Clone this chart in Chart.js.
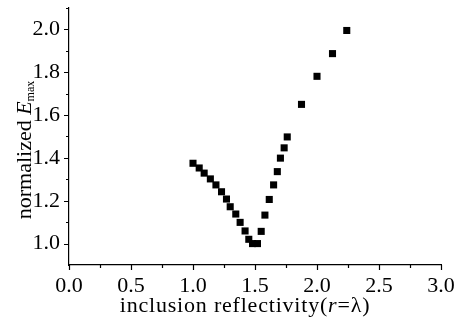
<!DOCTYPE html>
<html>
<head>
<meta charset="utf-8">
<script src="https://cdn.jsdelivr.net/npm/chart.js@4"></script>
<style>
  html, body { margin: 0; padding: 0; background: #fff; }
  #wrap { width: 458px; height: 320px; }
</style>
</head>
<body>
<div id="wrap"><canvas id="emaxChart"></canvas></div>
<script>
// inclusion reflectivity (r = lambda) and normalized E_max
const reflectivity = [1.00, 1.05, 1.09, 1.14, 1.185, 1.23, 1.27, 1.30, 1.345, 1.38, 1.42, 1.45, 1.48, 1.52,
                      1.55, 1.58, 1.615, 1.65, 1.68, 1.705, 1.735, 1.76, 1.875, 2.00, 2.125, 2.24];
const emaxNorm = [1.375, 1.353, 1.329, 1.302, 1.274, 1.242, 1.208, 1.172, 1.138, 1.099, 1.059, 1.020, 1.000, 1.000,
                  1.057, 1.133, 1.206, 1.274, 1.336, 1.399, 1.447, 1.498, 1.650, 1.781, 1.887, 1.995];

const xTicks = [0.0, 0.5, 1.0, 1.5, 2.0, 2.5, 3.0];
const yTicks = [1.0, 1.2, 1.4, 1.6, 1.8, 2.0];
const xMinorStep = 0.25;
const yMinorStep = 0.1;

const FONT = "'Liberation Serif', 'Times New Roman', serif";

// ticks (major + minor) drawn outward, plus the mixed-style axis titles
const axisDecor = {
  id: 'axisDecor',
  afterDraw(chart) {
    const ctx = chart.ctx;
    const xs = chart.scales.x, ys = chart.scales.y;
    const area = chart.chartArea;
    ctx.save();
    ctx.strokeStyle = '#000';
    ctx.lineWidth = 1.2;
    ctx.beginPath();
    for (let v = xs.min; v <= xs.max + 1e-9; v += xMinorStep) {
      const px = Math.round(xs.getPixelForValue(v)) + 0.5;
      const major = xTicks.some(t => Math.abs(t - v) < 1e-6);
      ctx.moveTo(px, area.bottom);
      ctx.lineTo(px, area.bottom + (major ? 5 : 3));
    }
    for (let v = 1.0; v <= ys.max + 1e-9; v += yMinorStep) {
      const py = Math.round(ys.getPixelForValue(v)) + 0.5;
      const major = yTicks.some(t => Math.abs(t - v) < 1e-6);
      ctx.moveTo(area.left, py);
      ctx.lineTo(area.left - (major ? 5 : 3), py);
    }
    ctx.stroke();

    ctx.fillStyle = '#000';
    ctx.textBaseline = 'alphabetic';

    // x title: inclusion reflectivity(r=λ)
    ctx.letterSpacing = '0.8px';
    const xParts = [
      { t: 'inclusion reflectivity(', f: '22px ' + FONT },
      { t: 'r', f: 'italic 22px ' + FONT },
      { t: '=λ)', f: '22px ' + FONT }
    ];
    let w = 0;
    xParts.forEach(p => { ctx.font = p.f; p.w = ctx.measureText(p.t).width; w += p.w; });
    let x = 245 - w / 2;
    xParts.forEach(p => { ctx.font = p.f; ctx.fillText(p.t, x, 312); x += p.w; });
    ctx.letterSpacing = '0px';

    // y title: normalized E_max, rotated
    ctx.translate(31, 150);
    ctx.rotate(-Math.PI / 2);
    const yParts = [
      { t: 'normalized ', f: '22px ' + FONT, dy: 0 },
      { t: 'E', f: 'italic 22px ' + FONT, dy: 0 },
      { t: 'max', f: '12px ' + FONT, dy: 3 }
    ];
    w = 0;
    yParts.forEach(p => { ctx.font = p.f; p.w = ctx.measureText(p.t).width; w += p.w; });
    x = -w / 2;
    yParts.forEach(p => { ctx.font = p.f; ctx.fillText(p.t, x, p.dy); x += p.w; });
    ctx.restore();
  }
};

new Chart(document.getElementById('emaxChart'), {
  type: 'scatter',
  data: {
    datasets: [{
      data: reflectivity.map((r, i) => ({ x: r, y: emaxNorm[i] })),
      pointStyle: 'rect',
      pointRadius: 5,
      pointHoverRadius: 5,
      backgroundColor: '#000',
      borderWidth: 0
    }]
  },
  options: {
    responsive: true,
    maintainAspectRatio: false,
    animation: false,
    layout: { padding: { top: 8, right: 17, left: 0, bottom: 0 } },
    plugins: { legend: { display: false }, tooltip: { enabled: false } },
    scales: {
      x: {
        type: 'linear',
        min: 0, max: 3,
        afterBuildTicks: s => { s.ticks = xTicks.map(v => ({ value: v })); },
        afterFit: s => { s.height = 55; s.paddingLeft = 0; s.paddingRight = 0; },
        grid: { display: false, drawTicks: false },
        border: { display: true, color: '#000', width: 1.2 },
        ticks: {
          color: '#000',
          padding: 8,
          maxRotation: 0,
          font: { family: FONT, size: 22 },
          callback: v => v.toFixed(1)
        }
      },
      y: {
        type: 'linear',
        min: 0.9, max: 2.1,
        afterBuildTicks: s => { s.ticks = yTicks.map(v => ({ value: v })); },
        afterFit: s => { s.width = 69; s.paddingTop = 0; s.paddingBottom = 0; },
        grid: { display: false, drawTicks: false },
        border: { display: true, color: '#000', width: 1.2 },
        ticks: {
          color: '#000',
          padding: 9,
          font: { family: FONT, size: 22 },
          callback: v => v.toFixed(1)
        }
      }
    }
  },
  plugins: [axisDecor]
});
</script>
</body>
</html>
